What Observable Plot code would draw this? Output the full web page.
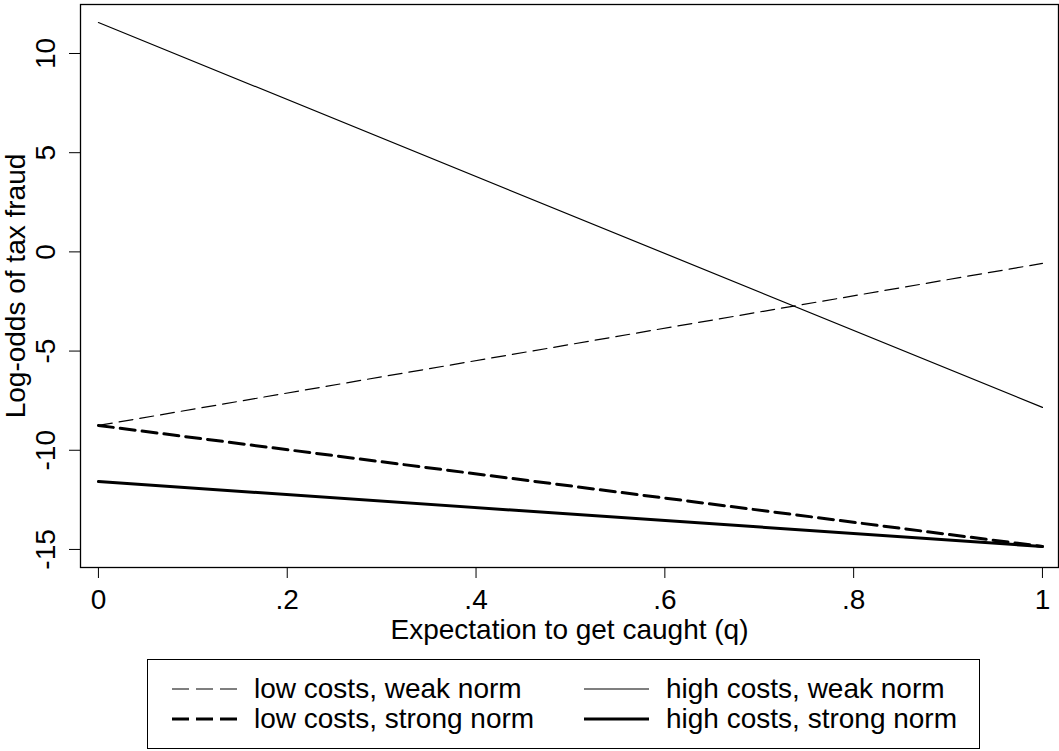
<!DOCTYPE html>
<html>
<head>
<meta charset="utf-8">
<script src="https://cdn.jsdelivr.net/npm/d3@7"></script>
<script src="https://cdn.jsdelivr.net/npm/@observablehq/plot@0.6"></script>
<style>
  html, body { margin: 0; padding: 0; background: #fff; }
  body { width: 1059px; height: 751px; position: relative; overflow: hidden; font-family: "Liberation Sans", Arial, sans-serif; }
  #chart { position: absolute; left: 0; top: 0; }
  #legend { position: absolute; left: 147px; top: 659px; width: 831px; height: 88px; border: 1px solid #000; box-sizing: content-box; }
  .item { position: absolute; display: flex; align-items: center; font-size: 28px; line-height: 30px; color: #000; height: 30px; white-space: nowrap; }
  .item svg { display: block; }
</style>
</head>
<body>
<div id="chart"></div>
<div id="legend"></div>
<script>
// Data
const q = [0, 1];
const lowWeak = [-8.75, -0.58];
const highWeak = [11.56, -7.84];
const lowStrong = [-8.75, -14.85];
const highStrong = [-11.58, -14.85];
const seriesNames = ["low costs, weak norm", "high costs, weak norm", "low costs, strong norm", "high costs, strong norm"];
const xTicks = [0, 0.2, 0.4, 0.6, 0.8, 1];
const xTickLabels = ["0", ".2", ".4", ".6", ".8", "1"];
const yTicks = [-15, -10, -5, 0, 5, 10];

const styles = {
  "low costs, weak norm": {strokeWidth: 1.2, strokeDasharray: "14,7"},
  "high costs, weak norm": {strokeWidth: 1.2, strokeDasharray: null},
  "low costs, strong norm": {strokeWidth: 3, strokeDasharray: "15,7"},
  "high costs, strong norm": {strokeWidth: 3, strokeDasharray: null}
};
const seriesValues = [lowWeak, highWeak, lowStrong, highStrong];
const rows = seriesNames.flatMap((name, i) => q.map((x, j) => ({series: name, q: x, v: seriesValues[i][j]})));

const font = "Liberation Sans, Arial, sans-serif";
const axisFont = 28;
const lineMarks = seriesNames.map(name => Plot.line(rows.filter(d => d.series === name), {
  x: "q", y: "v", stroke: "#000",
  strokeWidth: styles[name].strokeWidth,
  strokeDasharray: styles[name].strokeDasharray
}));

const chart = Plot.plot({
  width: 1059,
  height: 650,
  marginLeft: 80,
  marginRight: 1,
  marginTop: 4,
  marginBottom: 83,
  style: {fontFamily: font, background: "#fff", color: "#000"},
  x: {domain: [-0.019, 1.017]},
  y: {domain: [-15.91, 12.47]},
  marks: [
    Plot.axisX({ticks: xTicks, tickFormat: (d) => xTickLabels[xTicks.indexOf(d)], tickSize: 11, tickPadding: 11, fontSize: axisFont, label: null, strokeWidth: 1}),
    Plot.text(["Expectation to get caught (q)"], {frameAnchor: "bottom", lineAnchor: "middle", dy: 63, fontSize: axisFont, fill: "#000"}),
    Plot.axisY({ticks: yTicks, tickSize: 11, tickFormat: () => "", label: null}),
    Plot.text(yTicks, {y: d => d, text: d => String(d), frameAnchor: "left", dx: -34, rotate: -90, textAnchor: "middle", lineAnchor: "middle", fontSize: axisFont, fill: "#000"}),
    Plot.text(["Log-odds of tax fraud"], {frameAnchor: "left", dx: -64, rotate: -90, textAnchor: "middle", lineAnchor: "middle", fontSize: axisFont, fill: "#000"}),
    ...lineMarks,
    Plot.frame({stroke: "#000", strokeWidth: 1.3})
  ]
});
document.getElementById("chart").appendChild(chart);

// Legend (HTML) built from series names
const legend = document.getElementById("legend");
const pos = [
  {left: 23, top: 14}, {left: 435, top: 14},
  {left: 23, top: 44}, {left: 435, top: 44}
];
seriesNames.forEach((name, i) => {
  const s = styles[name];
  const div = document.createElement("div");
  div.className = "item";
  div.style.left = pos[i].left + "px";
  div.style.top = pos[i].top + "px";
  div.innerHTML = `<svg width="67" height="10"><line x1="1" y1="5" x2="66" y2="5" stroke="#000" stroke-width="${s.strokeWidth}" ${s.strokeDasharray ? `stroke-dasharray="17,7"` : ""}/></svg><span style="margin-left:16px">${name}</span>`;
  legend.appendChild(div);
});
</script>
</body>
</html>
